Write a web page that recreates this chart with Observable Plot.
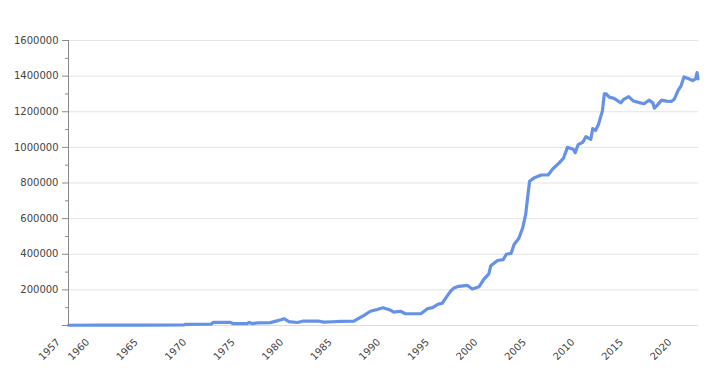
<!DOCTYPE html>
<html>
<head>
<meta charset="utf-8">
<script src="https://cdn.jsdelivr.net/npm/d3@7"></script>
<script src="https://cdn.jsdelivr.net/npm/@observablehq/plot@0.6"></script>
<style>
  html, body { margin: 0; padding: 0; background: #fff; }
  #chart { width: 723px; height: 386px; }
</style>
</head>
<body>
<div id="chart"></div>
<script>
// Time (decimal year) and value series
const years = [
  1957.0, 1960.0, 1965.0, 1968.9, 1969.0, 1971.7, 1971.9, 1973.7, 1974.0, 1975.4,
  1975.6, 1975.9, 1976.5, 1977.8, 1978.9, 1979.2, 1979.7, 1980.6, 1981.2, 1982.7,
  1983.3, 1984.3, 1985.0, 1986.4, 1986.8, 1987.4, 1988.1, 1988.8, 1989.4, 1990.2,
  1990.5, 1991.2, 1991.7, 1993.3, 1994.0, 1994.5, 1995.1, 1995.5, 1996.0, 1996.4,
  1996.7, 1997.2, 1998.1, 1998.6, 1999.3, 1999.8, 2000.3, 2000.5, 2001.2, 2001.8,
  2002.1, 2002.6, 2002.9, 2003.4, 2003.8, 2004.1, 2004.3, 2004.5, 2005.0, 2005.7,
  2006.4, 2006.9, 2007.5, 2008.0, 2008.4, 2009.0, 2009.2, 2009.5, 2010.0, 2010.3,
  2010.8, 2011.0, 2011.3, 2011.6, 2012.0, 2012.2, 2012.4, 2012.7, 2013.2, 2013.9,
  2014.2, 2014.7, 2015.2, 2015.9, 2016.3, 2016.8, 2017.2, 2017.35, 2017.7, 2018.1,
  2018.6, 2019.1, 2019.4, 2019.8, 2020.1, 2020.4, 2020.9, 2021.3, 2021.6, 2021.75,
  2021.85
];
const values = [
  1500, 2000, 2500, 3000, 6000, 7000, 17000, 17000, 10000, 11000,
  17000, 11000, 15000, 16000, 32000, 38000, 22000, 17000, 25000, 25000,
  19000, 21000, 23000, 24000, 37000, 56000, 80000, 90000, 100000, 85000,
  75000, 80000, 66000, 66000, 95000, 100000, 120000, 125000, 165000, 195000,
  210000, 220000, 225000, 205000, 218000, 260000, 290000, 335000, 365000, 370000,
  400000, 405000, 455000, 490000, 550000, 625000, 720000, 810000, 830000, 845000,
  845000, 880000, 910000, 940000, 1000000, 990000, 970000, 1015000, 1030000, 1060000,
  1045000, 1105000, 1095000, 1130000, 1205000, 1300000, 1300000, 1282000, 1275000, 1250000,
  1270000, 1285000, 1260000, 1250000, 1245000, 1265000, 1250000, 1220000, 1240000, 1265000,
  1260000, 1258000, 1270000, 1320000, 1345000, 1395000, 1385000, 1375000, 1385000, 1420000,
  1385000
];
const xTicks = [1957, 1960, 1965, 1970, 1975, 1980, 1985, 1990, 1995, 2000, 2005, 2010, 2015, 2020];
const yTicks = [0, 200000, 400000, 600000, 800000, 1000000, 1200000, 1400000, 1600000];
const yMinorTicks = [100000, 300000, 500000, 700000, 900000, 1100000, 1300000, 1500000];

const data = years.map((t, i) => ({t, v: values[i]}));

const chart = Plot.plot({
  width: 723,
  height: 386,
  marginLeft: 68,
  marginRight: 25,
  marginTop: 40,
  marginBottom: 61,
  style: {fontFamily: "'DejaVu Sans', sans-serif", fontSize: "10px", color: "#444", background: "#fff"},
  x: {domain: [1957, 2021.9], label: null},
  y: {domain: [0, 1600000], label: null},
  marks: [
    Plot.gridY(yTicks.slice(1), {stroke: "#e3e3e3", strokeOpacity: 1}),
    Plot.ruleY([0], {stroke: "#dcdcdc"}),
    Plot.ruleX([1957], {stroke: "#8a8a8a", strokeWidth: 1}),
    Plot.axisY(yMinorTicks, {tickSize: 3, tickFormat: () => "", stroke: "#8a8a8a"}),
    Plot.axisY(yTicks, {tickSize: 6, tickPadding: 4, stroke: "#8a8a8a", fill: "#444",
      tickFormat: d => d === 0 ? "" : String(d)}),
    Plot.axisX(xTicks, {tickSize: 0, tickPadding: 15, tickRotate: -45, fill: "#444",
      tickFormat: d => String(d), dx: -10}),
    Plot.line(data, {x: "t", y: "v", stroke: "#6592e6", strokeWidth: 3.2, strokeLinejoin: "round"})
  ]
});
document.getElementById("chart").appendChild(chart);
</script>
</body>
</html>
